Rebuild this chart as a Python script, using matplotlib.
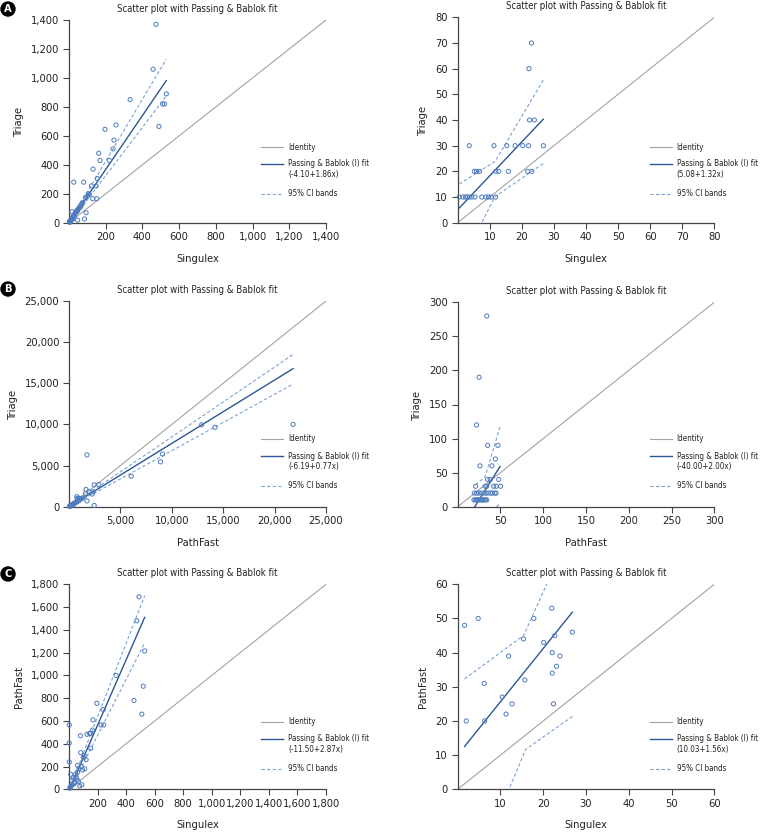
import numpy as np
import matplotlib
matplotlib.use("Agg")
import matplotlib.pyplot as plt
from matplotlib.lines import Line2D

plt.rcParams['font.family'] = ['DejaVu Sans']
plt.rcParams['font.stretch'] = 'condensed'

# ---- data ----
# A left: Singulex vs Triage
a1_x = [474, 458, 333, 530, 510, 521, 490, 196, 256, 245, 240, 162, 169, 220, 131, 154, 26, 80,
        122, 147, 111, 89, 151, 129, 105, 98, 71, 93, 16, 84, 47,
        2, 4, 5, 7, 8, 10, 12, 14, 16, 18, 20, 22, 25, 28, 30, 33, 36, 40, 43, 46, 50, 55, 60, 64, 68, 75]
a1_y = [1370, 1060, 850, 890, 820, 820, 665, 645, 675, 570, 510, 480, 430, 430, 370, 305, 280, 280,
        254, 253, 195, 173, 166, 166, 200, 180, 134, 69, 76, 26, 18,
        5, 8, 3, 15, 10, 20, 18, 30, 22, 35, 40, 28, 45, 55, 50, 62, 70, 75, 85, 80, 95, 100, 112, 110, 125, 140]
a1_fit = (-4.10, 1.86, 2, 530)
a1_ci_hi = ([2, 530], [2, 1130])
a1_ci_lo = ([2, 530], [-5, 875])

# A right
a2_x = [23, 22.2, 22.4, 23.9, 3.6, 11.3, 15.3, 17.9, 20.3, 22.1, 26.7,
        5.2, 5.9, 6.8, 11.9, 12.8, 15.8, 21.8, 23.1,
        0.5, 1.6, 2.4, 3.0, 3.6, 4.4, 5.4, 7.5, 8.8, 9.6, 10.4, 11.8]
a2_y = [70, 60, 40, 40, 30, 30, 30, 30, 30, 30, 30,
        20, 20, 20, 20, 20, 20, 20, 20,
        10, 10, 10, 10, 10, 10, 10, 10, 10, 10, 10, 10]
a2_fit = (5.08, 1.32, 0.5, 26.7)
a2_ci_hi = ([0.5, 11.6, 26.7], [15.1, 23.8, 55.6])
a2_ci_lo = ([0.5, 11.6, 26.7], [-17, 10.1, 23.1])

# B left: PathFast vs Triage
b1_x = [21800, 12900, 14200, 9100, 8900, 6050, 1750, 2900, 2450, 1650, 2270, 1750, 2450,
        1600, 1950, 2350, 800, 900, 1000, 750,
        50, 80, 120, 150, 200, 250, 300, 350, 400, 450, 500, 600, 650, 700, 800, 900, 1000, 1100, 1200, 1300]
b1_y = [10000, 9950, 9650, 6400, 5450, 3700, 6300, 2700, 2650, 2100, 1540, 700, 150,
        1600, 1850, 1800, 1000, 1050, 1000, 1215,
        40, 90, 60, 130, 180, 150, 260, 240, 330, 300, 420, 450, 520, 560, 620, 700, 780, 1000, 950, 1050]
b1_fit = (-6.19, 0.77, 30, 21800)
b1_ci_hi = ([30, 21800], [20, 18500])
b1_ci_lo = ([30, 21800], [-30, 14900])

# B right
b2_x = [34, 25, 22, 35, 47, 44, 26, 40, 48, 35, 38, 21, 32, 34, 42, 45, 50,
        19.5, 22.2, 24.9, 27.7, 30.4, 33.1, 35.8, 38.6, 40.9, 43.6, 44.8,
        19, 20.5, 22, 23.5, 25, 26.5, 28, 29.5, 31, 32.5, 34]
b2_y = [280, 190, 120, 90, 90, 70, 60, 60, 40, 40, 40, 30, 30, 30, 30, 30, 30,
        20, 20, 20, 20, 20, 20, 20, 20, 20, 20, 20,
        10, 10, 10, 10, 10, 10, 10, 10, 10, 10, 10]
b2_fit = (-40.00, 2.00, 20, 49.5)
b2_ci_hi = ([21, 32, 49.5], [31.9, 44, 117])
b2_ci_lo = ([20, 36, 50], [-90, -10, 5])

# C left: Singulex vs PathFast
c1_x = [490, 475, 530, 330, 520, 455, 510, 195, 168, 224, 243, 240, 163, 150, 143, 80, 126, 152,
        82, 107, 2, 2, 2, 12,
        30, 20, 45, 60, 70, 50, 40, 25, 15, 10, 5, 35, 55, 65, 90, 75, 100, 110, 85, 95, 120, 60]
c1_y = [1690, 1480, 1215, 1000, 905, 780, 660, 755, 610, 565, 565, 700, 520, 490, 490, 470, 483, 360,
        322, 296, 565, 407, 240, 132,
        100, 80, 130, 150, 180, 110, 60, 40, 30, 20, 10, 50, 90, 70, 40, 30, 280, 180, 200, 170, 260, 210]
c1_fit = (-11.50, 2.87, 2, 530)
c1_ci_hi = ([2, 530], [0, 1700])
c1_ci_lo = ([2, 530], [-15, 1285])

# C right
c2_x = [1.6, 4.8, 17.8, 22, 26.8, 22.7, 15.4, 20.1, 22.1, 23.9, 11.9, 23.1, 22.1, 6.2, 15.7,
        10.4, 12.7, 22.4, 11.3, 2, 6.3]
c2_y = [48, 50, 50, 53, 46, 45, 44, 43, 40, 39, 39, 36, 34, 31, 32,
        27, 25, 25, 22, 20, 20]
c2_fit = (10.03, 1.56, 1.6, 26.8)
c2_ci_hi = ([1.6, 15.4, 26.8], [32.3, 45, 76.7])
c2_ci_lo = ([1.6, 15.9, 26.8], [-31.2, 11.7, 21.3])

# ---- style ----
W, H = 761, 832
PT_COL = '#4f7cbf'
FIT_COL = '#2b5797'
CI_COL = '#7ba3d6'
ID_COL = '#a3a3a3'
AX_COL = '#444444'
TXT = '#222222'

fig = plt.figure(figsize=(W / 100, H / 100), dpi=100)


def fmt(v):
    return '{:,}'.format(int(v))


def panel(box, x, y, fit, ci_hi, ci_lo, lim, step, xlab, ylab, leg_y):
    l, t, r, b = box
    ax = fig.add_axes([l / W, 1 - b / H, (r - l) / W, (b - t) / H])
    ax.plot([0, lim], [0, lim], color=ID_COL, lw=0.8)
    a, s, x0, x1 = fit
    ax.plot([x0, x1], [a + s * x0, a + s * x1], color=FIT_COL, lw=1.0)
    ax.plot(ci_hi[0], ci_hi[1], color=CI_COL, lw=0.8, ls=(0, (3, 2)))
    ax.plot(ci_lo[0], ci_lo[1], color=CI_COL, lw=0.8, ls=(0, (3, 2)))
    ax.scatter(x, y, s=9, facecolors='none', edgecolors=PT_COL, linewidths=0.7, clip_on=False, zorder=3)
    ax.set_xlim(0, lim)
    ax.set_ylim(0, lim)
    ticks = np.arange(0, lim + step / 2, step)
    ax.set_xticks(ticks[1:])
    ax.set_xticklabels([fmt(v) for v in ticks[1:]])
    ax.set_yticks(ticks)
    ax.set_yticklabels([fmt(v) for v in ticks])
    for sp in ['top', 'right']:
        ax.spines[sp].set_visible(False)
    for sp in ['left', 'bottom']:
        ax.spines[sp].set_color(AX_COL)
        ax.spines[sp].set_linewidth(0.9)
    ax.tick_params(direction='out', length=4, width=0.8, color=AX_COL, labelsize=8,
                   labelcolor=TXT, pad=3)
    ax.set_title('Scatter plot with Passing & Bablok fit', fontsize=6.9, pad=6, color=TXT)
    ax.set_xlabel(xlab, fontsize=8, labelpad=8, color=TXT)
    ax.set_ylabel(ylab, fontsize=8, labelpad=5, color=TXT)

    # legend drawn at pixel positions beside the plot
    hx0 = l + 192
    hx1 = hx0 + 22
    tx = hx1 + 5
    lab = '({:.2f}+{:.2f}x)'.format(a, s)
    rows = [(leg_y, ID_COL, '-', 'Identity'),
            (leg_y + 17, FIT_COL, '-', 'Passing & Bablok (I) fit'),
            (leg_y + 47, CI_COL, (0, (3, 2)), '95% CI bands')]
    for yy, c, ls, txt in rows:
        fy = 1 - yy / H
        fig.add_artist(Line2D([hx0 / W, hx1 / W], [fy, fy], color=c, lw=1.0 if c == FIT_COL else 0.8, ls=ls))
        fig.text(tx / W, fy, txt, fontsize=5.8, va='center', ha='left', color=TXT)
    fig.text(tx / W, 1 - (leg_y + 28) / H, lab, fontsize=5.8, va='center', ha='left', color=TXT)
    return ax


panel((69, 20, 326, 222.7), a1_x, a1_y, a1_fit, a1_ci_hi, a1_ci_lo, 1400, 200, 'Singulex', 'Triage', 147)
panel((457.7, 17.3, 714.3, 222.7), a2_x, a2_y, a2_fit, a2_ci_hi, a2_ci_lo, 80, 10, 'Singulex', 'Triage', 147)
panel((69, 301, 326, 506.7), b1_x, b1_y, b1_fit, b1_ci_hi, b1_ci_lo, 25000, 5000, 'PathFast', 'Triage', 439)
panel((457.7, 302.3, 714.3, 506.7), b2_x, b2_y, b2_fit, b2_ci_hi, b2_ci_lo, 300, 50, 'PathFast', 'Triage', 439)
panel((69, 584.3, 326, 789.3), c1_x, c1_y, c1_fit, c1_ci_hi, c1_ci_lo, 1800, 200, 'Singulex', 'PathFast', 721.7)
panel((457.7, 584.3, 714.3, 789.3), c2_x, c2_y, c2_fit, c2_ci_hi, c2_ci_lo, 60, 10, 'Singulex', 'PathFast', 721.7)

# panel letters
for letter, cy in [('A', 9), ('B', 289), ('C', 574)]:
    fig.text(8 / W, 1 - cy / H, letter, fontsize=8, fontweight='bold', color='white',
             ha='center', va='center', family='DejaVu Sans',
             bbox=dict(boxstyle='circle,pad=0.18', fc='black', ec='black'))

fig.savefig('out.png', dpi=100)
